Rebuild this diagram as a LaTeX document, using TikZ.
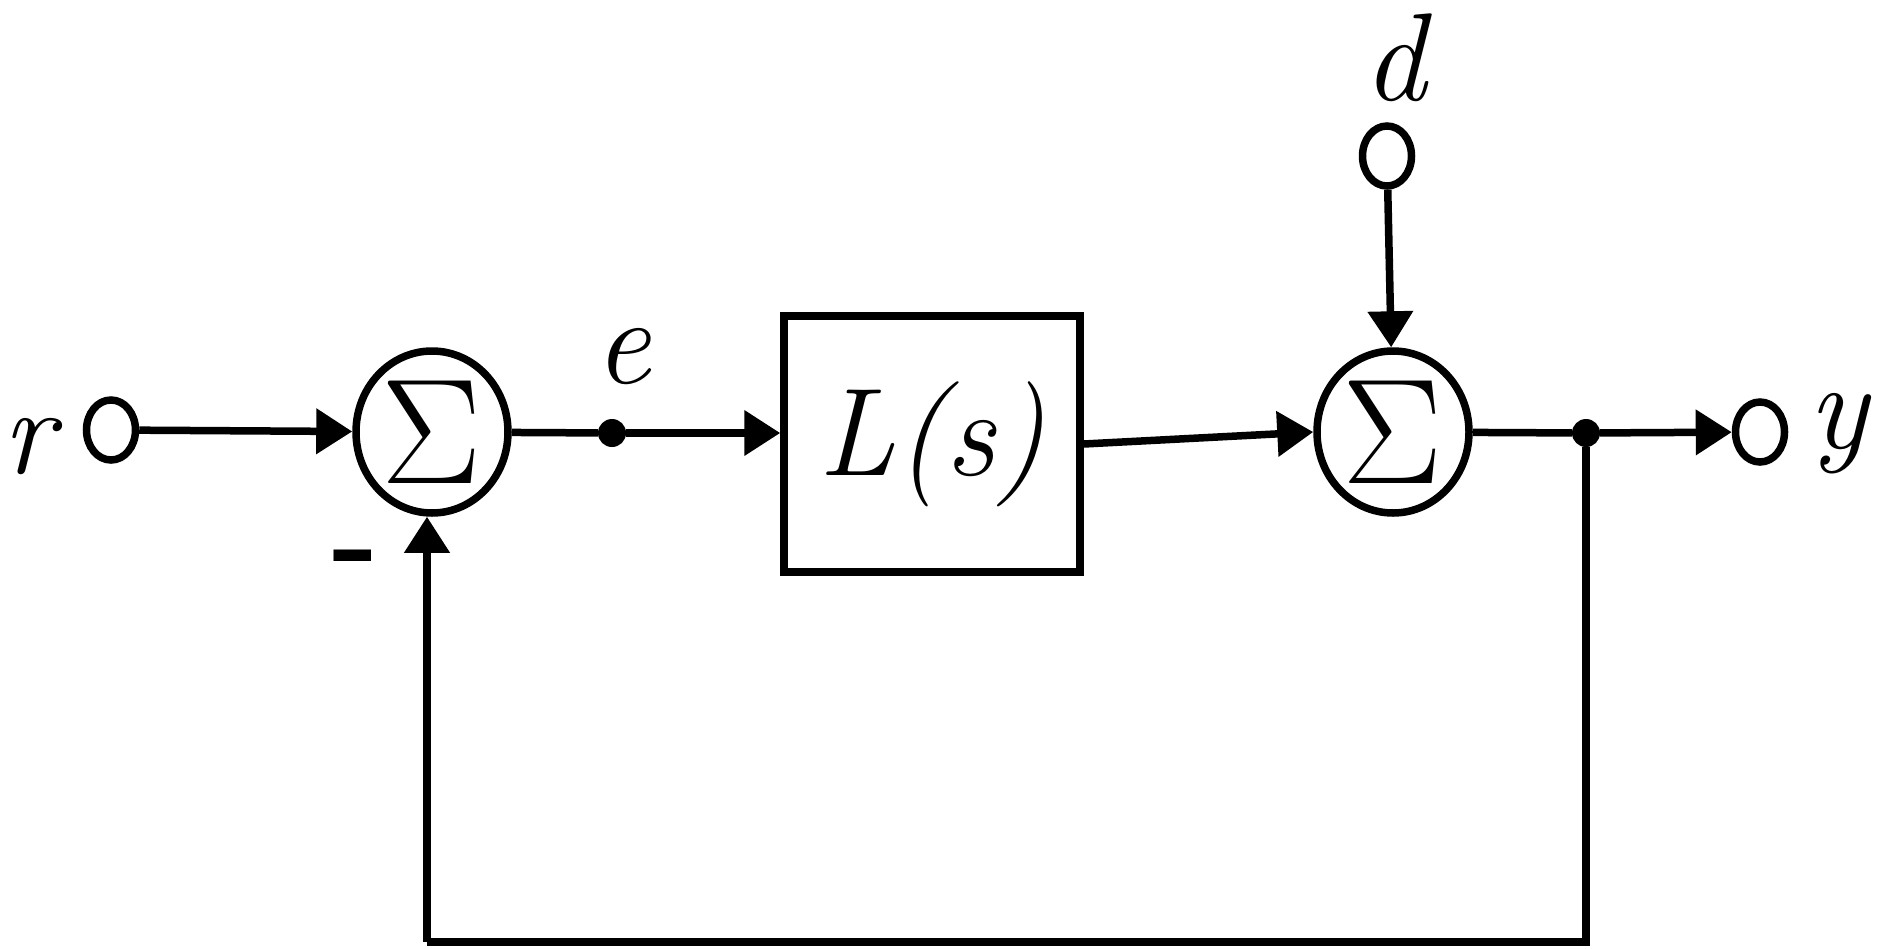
\RequirePackage{fix-cm}
\documentclass[tikz,border=0pt]{standalone}
\usetikzlibrary{arrows.meta,shapes.geometric}
\begin{document}
\begin{tikzpicture}[x=1pt,y=-1pt,
  ln/.style={line width=7.5pt},
  arr/.style={ln,-{Triangle[length=36pt,width=44pt]}},
  port/.style={ellipse,draw,line width=7.5pt,inner sep=0pt,minimum width=49pt,minimum height=60pt},
  sumnode/.style={ellipse,draw,line width=7.5pt,inner sep=0pt,minimum width=152pt,minimum height=162pt,font=\fontsize{150}{160}\selectfont},
  blk/.style={draw,line width=7.5pt,inner sep=0pt,minimum width=296pt,minimum height=256pt,font=\fontsize{125}{130}\selectfont\itshape},
  junc/.style={circle,fill,inner sep=0pt,minimum size=28pt},
  lbl/.style={inner sep=0pt,font=\fontsize{125}{130}\selectfont\itshape}]
\useasboundingbox (0,0) rectangle (1877,948);
\node[port] (rin) at (111,430) {};
\node[lbl,anchor=base west] (rl) at (2,473) {r};
\node[sumnode] (s1) at (432,432) {$\Sigma$};
\node[junc] (e1) at (612,433) {};
\node[lbl,anchor=base] (el) at (623,383) {e};
\node[blk] (L) at (932,444) {L(s)};
\node[sumnode] (s2) at (1393,432) {$\Sigma$};
\node[port] (dc) at (1387,156) {};
\node[lbl,anchor=base] (dl) at (1395,100) {d};
\node[junc] (j2) at (1586,433) {};
\node[port] (yc) at (1760,432) {};
\node[lbl,anchor=base west] (yl) at (1808,448) {y};
\node[inner sep=0pt,font=\fontsize{125}{130}\selectfont\bfseries] (minus) at (356,567) {-};
\coordinate (fb) at (427,942);
\draw[arr] (rin) -- (s1);
\draw[ln] (s1) -- (e1);
\draw[arr] (e1) -- (e1 -| L.west);
\draw[arr] (L.east) -- (s2.west);
\draw[arr] (dc) -- (s2);
\draw[ln] (s2) -- (j2);
\draw[arr] (j2) -- (yc);
\draw[ln] (j2) |- (fb);
\draw[arr] (fb) -- (fb |- s1.south);
\end{tikzpicture}
\end{document}
